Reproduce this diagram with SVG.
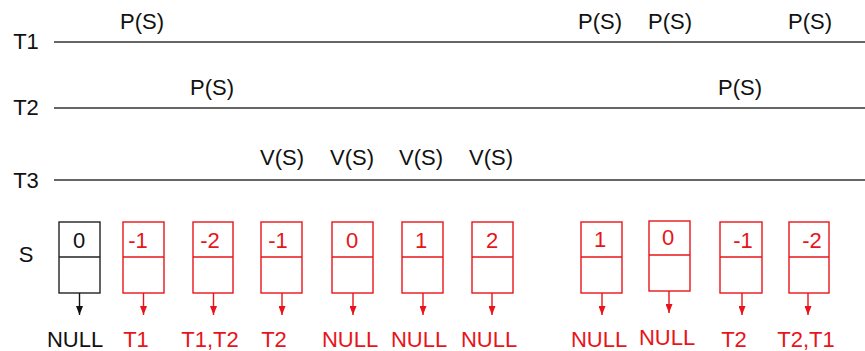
<svg xmlns="http://www.w3.org/2000/svg" width="865" height="351" viewBox="0 0 865 351">
<style>
text{font-family:"Liberation Sans",Arial,sans-serif;font-size:22px;text-anchor:middle}
.k{fill:#111}
.r{fill:#e8141a}
.tl{stroke:#333;stroke-width:1.6}
.bk{fill:#fff;stroke:#222;stroke-width:1.4}
.br{fill:#fff;stroke:#e8141a;stroke-width:1.4}
.ak{stroke:#111;stroke-width:1.4}
.ar{stroke:#e8141a;stroke-width:1.4}
</style>
<defs>
<marker id="mk" markerWidth="7" markerHeight="9" refX="3.5" refY="9" markerUnits="userSpaceOnUse" viewBox="0 0 7 9"><path d="M0,0 L7,0 L3.5,9 Z" fill="#111"/></marker>
<marker id="mr" markerWidth="7" markerHeight="9" refX="3.5" refY="9" markerUnits="userSpaceOnUse" viewBox="0 0 7 9"><path d="M0,0 L7,0 L3.5,9 Z" fill="#e8141a"/></marker>
</defs>
<g id="timelines">
<text class="k" x="26" y="49">T1</text>
<line class="tl" x1="54" y1="42" x2="865" y2="42"/>
<text class="k" x="26" y="115">T2</text>
<line class="tl" x1="54" y1="108" x2="865" y2="108"/>
<text class="k" x="26" y="188">T3</text>
<line class="tl" x1="54" y1="180" x2="865" y2="180"/>
<text class="k" x="142" y="29">P(S)</text>
<text class="k" x="600" y="29">P(S)</text>
<text class="k" x="670" y="29">P(S)</text>
<text class="k" x="810" y="29">P(S)</text>
<text class="k" x="212" y="95">P(S)</text>
<text class="k" x="740" y="95">P(S)</text>
<text class="k" x="282" y="165">V(S)</text>
<text class="k" x="352" y="165">V(S)</text>
<text class="k" x="421" y="165">V(S)</text>
<text class="k" x="491" y="165">V(S)</text>
<text class="k" x="26" y="262">S</text>
</g>
<g id="s0"><rect class="bk" x="59" y="222" width="41" height="71"/><line class="bk" x1="59" y1="257" x2="100" y2="257"/><text class="k" x="79" y="248">0</text><text class="k" x="75" y="347">NULL</text></g>
<g id="s1"><rect class="br" x="123" y="222" width="41" height="71"/><line class="br" x1="123" y1="257" x2="164" y2="257"/><text class="r" x="138" y="248">-1</text><text class="r" x="136" y="347">T1</text></g>
<g id="s2"><rect class="br" x="193" y="222" width="40" height="71"/><line class="br" x1="193" y1="257" x2="233" y2="257"/><text class="r" x="210" y="248">-2</text><text class="r" x="210" y="347">T1,T2</text></g>
<g id="s3"><rect class="br" x="261" y="222" width="41" height="71"/><line class="br" x1="261" y1="257" x2="302" y2="257"/><text class="r" x="278" y="248">-1</text><text class="r" x="274" y="347">T2</text></g>
<g id="s4"><rect class="br" x="332" y="222" width="41" height="71"/><line class="br" x1="332" y1="257" x2="373" y2="257"/><text class="r" x="352" y="248">0</text><text class="r" x="350" y="347">NULL</text></g>
<g id="s5"><rect class="br" x="402" y="222" width="41" height="71"/><line class="br" x1="402" y1="257" x2="443" y2="257"/><text class="r" x="421" y="248">1</text><text class="r" x="419" y="347">NULL</text></g>
<g id="s6"><rect class="br" x="472" y="222" width="41" height="71"/><line class="br" x1="472" y1="257" x2="513" y2="257"/><text class="r" x="492" y="248">2</text><text class="r" x="489" y="347">NULL</text></g>
<g id="s7"><rect class="br" x="581" y="222" width="41" height="71"/><line class="br" x1="581" y1="257" x2="622" y2="257"/><text class="r" x="600" y="247">1</text><text class="r" x="599" y="347">NULL</text></g>
<g id="s8"><rect class="br" x="649" y="221" width="41" height="70"/><line class="br" x1="649" y1="255" x2="690" y2="255"/><text class="r" x="668" y="245">0</text><text class="r" x="667" y="345">NULL</text></g>
<g id="s9"><rect class="br" x="720" y="222" width="42" height="71"/><line class="br" x1="720" y1="257" x2="762" y2="257"/><text class="r" x="743" y="248">-1</text><text class="r" x="734" y="347">T2</text></g>
<g id="s10"><rect class="br" x="789" y="222" width="40" height="71"/><line class="br" x1="789" y1="257" x2="829" y2="257"/><text class="r" x="812" y="248">-2</text><text class="r" x="806" y="347">T2,T1</text></g>
<g id="connectors">
<line class="ak" x1="79.5" y1="293" x2="79.5" y2="315" marker-end="url(#mk)"/>
<line class="ar" x1="143.5" y1="293" x2="143.5" y2="315" marker-end="url(#mr)"/>
<line class="ar" x1="213.5" y1="293" x2="213.5" y2="315" marker-end="url(#mr)"/>
<line class="ar" x1="282" y1="293" x2="282" y2="315" marker-end="url(#mr)"/>
<line class="ar" x1="353" y1="293" x2="353" y2="315" marker-end="url(#mr)"/>
<line class="ar" x1="423" y1="293" x2="423" y2="315" marker-end="url(#mr)"/>
<line class="ar" x1="492" y1="293" x2="492" y2="315" marker-end="url(#mr)"/>
<line class="ar" x1="602" y1="293" x2="602" y2="315" marker-end="url(#mr)"/>
<line class="ar" x1="669" y1="291" x2="669" y2="313" marker-end="url(#mr)"/>
<line class="ar" x1="742" y1="293" x2="742" y2="315" marker-end="url(#mr)"/>
<line class="ar" x1="808" y1="293" x2="808" y2="315" marker-end="url(#mr)"/>
</g>
</svg>
